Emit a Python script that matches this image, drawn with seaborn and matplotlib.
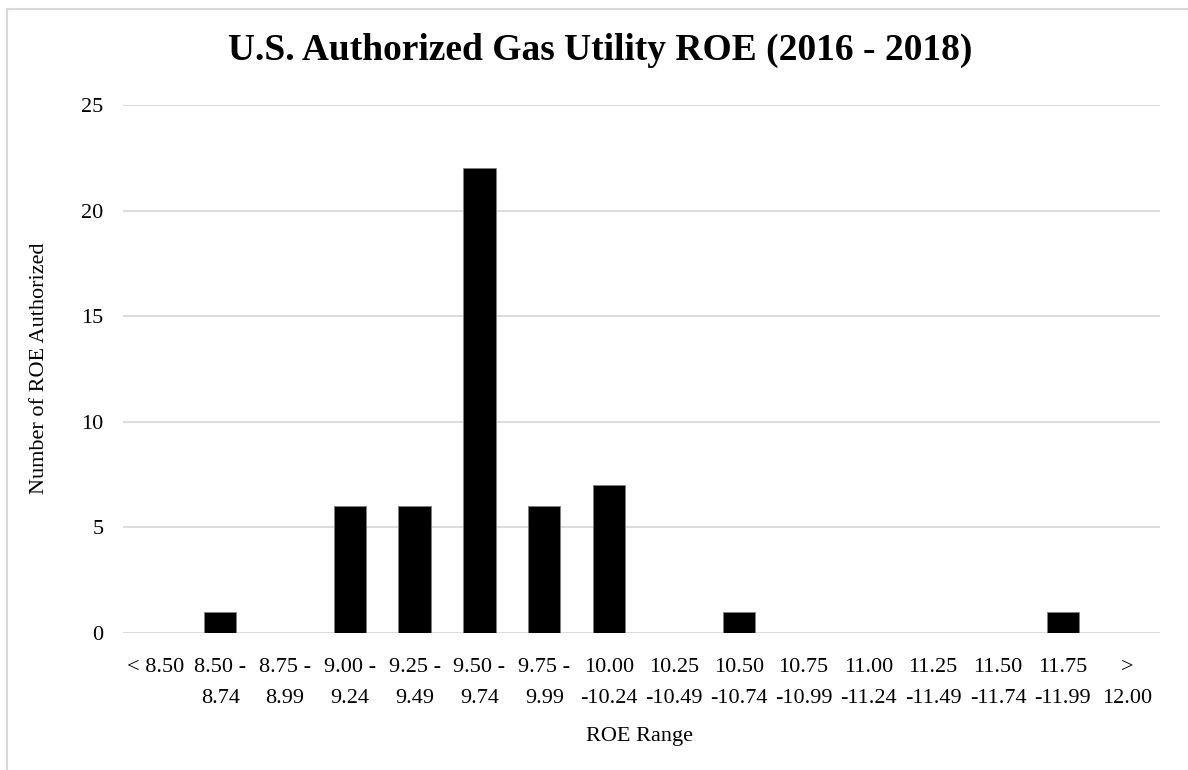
import seaborn as sns
import pandas as pd
import matplotlib.pyplot as plt
from matplotlib.patches import Rectangle

# data
ranges = ['< 8.50', '8.50 - 8.74', '8.75 - 8.99', '9.00 - 9.24', '9.25 - 9.49',
          '9.50 - 9.74', '9.75 - 9.99', '10.00 -10.24', '10.25 -10.49', '10.50 -10.74',
          '10.75 -10.99', '11.00 -11.24', '11.25 -11.49', '11.50 -11.74', '11.75 -11.99',
          '> 12.00']
counts = [0, 1, 0, 6, 6, 22, 6, 7, 0, 1, 0, 0, 0, 0, 1, 0]
tick_labels = ['< 8.50', '8.50 -\n8.74', '8.75 -\n8.99', '9.00 -\n9.24', '9.25 -\n9.49',
               '9.50 -\n9.74', '9.75 -\n9.99', '10.00\n-10.24', '10.25\n-10.49', '10.50\n-10.74',
               '10.75\n-10.99', '11.00\n-11.24', '11.25\n-11.49', '11.50\n-11.74', '11.75\n-11.99',
               '>\n12.00']

df = pd.DataFrame({'range': ranges, 'count': counts})

sns.set_style('white')
plt.rcParams['font.family'] = ['Liberation Serif', 'DejaVu Serif']
plt.rcParams['text.color'] = 'black'
plt.rcParams['xtick.color'] = 'black'
plt.rcParams['ytick.color'] = 'black'

fig = plt.figure(figsize=(11.88, 7.7), dpi=100)
ax = fig.add_axes([123 / 1188, 1 - 633 / 770, (1160 - 123) / 1188, (633 - 105) / 770])

sns.barplot(data=df, x='range', y='count', color='black', width=0.5,
            edgecolor='#7f7f7f', linewidth=0.6, saturation=1, ax=ax)

ax.set_ylim(0, 25)
ax.set_yticks([0, 5, 10, 15, 20, 25])
ax.set_xlim(-0.5, len(ranges) - 0.5)
ax.set_xticks(range(len(ranges)))
ax.set_xticklabels(tick_labels, fontsize=16, linespacing=1.85)
ax.tick_params(axis='x', length=0, pad=18, labelcolor='black')
ax.tick_params(axis='y', length=0, pad=14, labelsize=16, labelcolor='black')
ax.grid(axis='y', color='#d9d9d9', linewidth=1.3)
ax.set_axisbelow(True)
for s in ax.spines.values():
    s.set_visible(False)

ax.set_xlabel('')
ax.set_ylabel('')
fig.text(640 / 1188, 1 - 736 / 770, 'ROE Range', ha='center', va='center', fontsize=16)
fig.text(40 / 1188, 1 - 368 / 770, 'Number of ROE Authorized', ha='center', va='center',
         rotation=90, fontsize=16)
fig.text(600 / 1188, 1 - 50 / 770, 'U.S. Authorized Gas Utility ROE (2016 - 2018)',
         ha='center', va='center', fontsize=27, fontweight='bold')

# outer chart border (top and left visible)
fig.add_artist(Rectangle((7 / 1188, -0.1), 1.2, 1.1 - 9 / 770, transform=fig.transFigure,
                         fill=False, edgecolor='#d9d9d9', linewidth=1.5))

plt.savefig('out.png', dpi=100)
